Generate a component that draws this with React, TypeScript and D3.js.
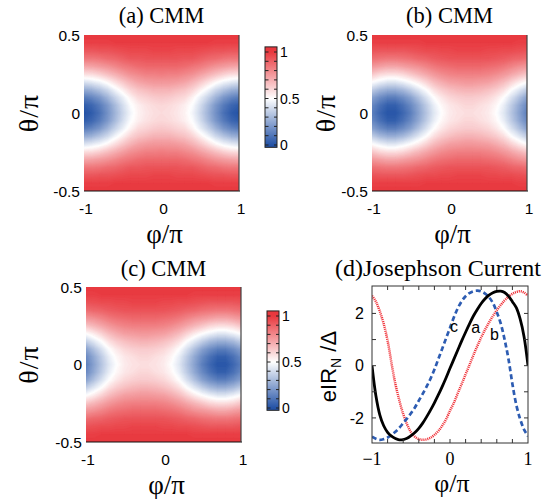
import { useMemo } from 'react'
import * as d3 from 'd3'

// CMM maps: columns are phi/pi, rows are theta/pi from 0.5 down to 0 (lower half mirrors it)
const PHI_GRID = [-1, -0.9, -0.8, -0.7, -0.6, -0.5, -0.4, -0.3, -0.2, -0.1, 0, 0.1, 0.2, 0.3, 0.4, 0.5, 0.6, 0.7, 0.8, 0.9, 1]
const THETA_UPPER = [0.5, 0.45, 0.4, 0.35, 0.3, 0.25, 0.2, 0.15, 0.1, 0.05, 0]

const CMM_A = [
  [1, 1, 1, 1, 1, 1, 1, 1, 1, 1, 1, 1, 1, 1, 1, 1, 1, 1, 1, 1, 1],
  [0.98, 0.98, 0.98, 0.98, 0.99, 0.99, 0.99, 0.99, 0.99, 0.99, 0.99, 0.99, 0.99, 0.99, 0.99, 0.99, 0.99, 0.98, 0.98, 0.98, 0.98],
  [0.92, 0.92, 0.93, 0.93, 0.94, 0.95, 0.96, 0.96, 0.96, 0.97, 0.97, 0.97, 0.96, 0.96, 0.96, 0.95, 0.94, 0.93, 0.93, 0.92, 0.92],
  [0.84, 0.84, 0.85, 0.87, 0.88, 0.9, 0.92, 0.92, 0.93, 0.93, 0.93, 0.93, 0.93, 0.92, 0.92, 0.9, 0.88, 0.87, 0.85, 0.84, 0.84],
  [0.72, 0.73, 0.75, 0.77, 0.8, 0.83, 0.85, 0.87, 0.88, 0.88, 0.88, 0.88, 0.88, 0.87, 0.85, 0.83, 0.8, 0.77, 0.75, 0.73, 0.72],
  [0.58, 0.59, 0.62, 0.66, 0.7, 0.74, 0.78, 0.8, 0.82, 0.82, 0.83, 0.82, 0.82, 0.8, 0.78, 0.74, 0.7, 0.66, 0.62, 0.59, 0.58],
  [0.42, 0.44, 0.47, 0.52, 0.58, 0.64, 0.69, 0.73, 0.75, 0.76, 0.76, 0.76, 0.75, 0.73, 0.69, 0.64, 0.58, 0.52, 0.47, 0.44, 0.42],
  [0.26, 0.28, 0.33, 0.39, 0.47, 0.54, 0.61, 0.65, 0.67, 0.69, 0.69, 0.69, 0.67, 0.65, 0.61, 0.54, 0.47, 0.39, 0.33, 0.28, 0.26],
  [0.12, 0.15, 0.2, 0.28, 0.37, 0.45, 0.53, 0.59, 0.61, 0.63, 0.64, 0.63, 0.61, 0.59, 0.53, 0.45, 0.37, 0.28, 0.2, 0.15, 0.12],
  [0.03, 0.06, 0.12, 0.2, 0.3, 0.4, 0.49, 0.54, 0.57, 0.59, 0.6, 0.59, 0.57, 0.54, 0.49, 0.4, 0.3, 0.2, 0.12, 0.06, 0.03],
  [0, 0.03, 0.09, 0.18, 0.28, 0.38, 0.47, 0.53, 0.56, 0.58, 0.59, 0.58, 0.56, 0.53, 0.47, 0.38, 0.28, 0.18, 0.09, 0.03, 0],
]

const CMM_B = [
  [1, 1, 1, 1, 1, 1, 1, 1, 1, 1, 1, 1, 1, 1, 1, 1, 1, 1, 1, 1, 1],
  [0.98, 0.98, 0.98, 0.98, 0.98, 0.98, 0.98, 0.99, 0.99, 0.99, 0.99, 0.99, 0.99, 0.99, 0.99, 0.99, 0.99, 0.99, 0.99, 0.98, 0.98],
  [0.93, 0.92, 0.92, 0.92, 0.92, 0.93, 0.94, 0.95, 0.95, 0.96, 0.96, 0.97, 0.97, 0.97, 0.97, 0.96, 0.96, 0.95, 0.95, 0.94, 0.93],
  [0.86, 0.85, 0.84, 0.84, 0.85, 0.86, 0.88, 0.89, 0.91, 0.92, 0.93, 0.93, 0.93, 0.93, 0.93, 0.93, 0.92, 0.91, 0.89, 0.88, 0.86],
  [0.76, 0.74, 0.72, 0.72, 0.74, 0.76, 0.78, 0.81, 0.84, 0.86, 0.87, 0.88, 0.88, 0.88, 0.88, 0.87, 0.86, 0.84, 0.81, 0.78, 0.76],
  [0.64, 0.6, 0.58, 0.58, 0.6, 0.64, 0.68, 0.72, 0.76, 0.79, 0.81, 0.82, 0.82, 0.82, 0.82, 0.81, 0.79, 0.76, 0.72, 0.68, 0.64],
  [0.5, 0.46, 0.43, 0.43, 0.46, 0.5, 0.55, 0.61, 0.67, 0.71, 0.74, 0.75, 0.76, 0.76, 0.75, 0.74, 0.71, 0.67, 0.61, 0.55, 0.5],
  [0.36, 0.3, 0.27, 0.27, 0.3, 0.36, 0.43, 0.5, 0.58, 0.63, 0.66, 0.68, 0.69, 0.69, 0.68, 0.66, 0.63, 0.58, 0.5, 0.43, 0.36],
  [0.23, 0.17, 0.13, 0.13, 0.17, 0.23, 0.32, 0.41, 0.5, 0.56, 0.6, 0.62, 0.63, 0.63, 0.62, 0.6, 0.56, 0.5, 0.41, 0.32, 0.23],
  [0.16, 0.09, 0.04, 0.04, 0.09, 0.16, 0.25, 0.35, 0.45, 0.52, 0.56, 0.58, 0.6, 0.6, 0.58, 0.56, 0.52, 0.45, 0.35, 0.25, 0.16],
  [0.13, 0.06, 0.01, 0.01, 0.06, 0.13, 0.23, 0.33, 0.43, 0.5, 0.55, 0.57, 0.58, 0.58, 0.57, 0.55, 0.5, 0.43, 0.33, 0.23, 0.13],
]

const CMM_C = [
  [1, 1, 1, 1, 1, 1, 1, 1, 1, 1, 1, 1, 1, 1, 1, 1, 1, 1, 1, 1, 1],
  [0.98, 0.98, 0.99, 0.99, 0.99, 0.99, 0.99, 0.99, 0.99, 0.99, 0.99, 0.99, 0.99, 0.99, 0.98, 0.98, 0.98, 0.98, 0.98, 0.98, 0.98],
  [0.93, 0.94, 0.95, 0.95, 0.96, 0.96, 0.97, 0.97, 0.97, 0.97, 0.96, 0.96, 0.95, 0.95, 0.94, 0.93, 0.92, 0.92, 0.92, 0.92, 0.93],
  [0.86, 0.88, 0.89, 0.91, 0.92, 0.93, 0.93, 0.93, 0.93, 0.93, 0.93, 0.92, 0.91, 0.89, 0.88, 0.86, 0.85, 0.84, 0.84, 0.85, 0.86],
  [0.76, 0.78, 0.81, 0.84, 0.86, 0.87, 0.88, 0.88, 0.88, 0.88, 0.87, 0.86, 0.84, 0.81, 0.78, 0.76, 0.74, 0.72, 0.72, 0.74, 0.76],
  [0.64, 0.68, 0.72, 0.76, 0.79, 0.81, 0.82, 0.82, 0.82, 0.82, 0.81, 0.79, 0.76, 0.72, 0.68, 0.64, 0.6, 0.58, 0.58, 0.6, 0.64],
  [0.5, 0.55, 0.61, 0.67, 0.71, 0.74, 0.75, 0.76, 0.76, 0.75, 0.74, 0.71, 0.67, 0.61, 0.55, 0.5, 0.46, 0.43, 0.43, 0.46, 0.5],
  [0.36, 0.43, 0.5, 0.58, 0.63, 0.66, 0.68, 0.69, 0.69, 0.68, 0.66, 0.63, 0.58, 0.5, 0.43, 0.36, 0.3, 0.27, 0.27, 0.3, 0.36],
  [0.23, 0.32, 0.41, 0.5, 0.56, 0.6, 0.62, 0.63, 0.63, 0.62, 0.6, 0.56, 0.5, 0.41, 0.32, 0.23, 0.17, 0.13, 0.13, 0.17, 0.23],
  [0.16, 0.25, 0.35, 0.45, 0.52, 0.56, 0.58, 0.6, 0.6, 0.58, 0.56, 0.52, 0.45, 0.35, 0.25, 0.16, 0.09, 0.04, 0.04, 0.09, 0.16],
  [0.13, 0.23, 0.33, 0.43, 0.5, 0.55, 0.57, 0.58, 0.58, 0.57, 0.55, 0.5, 0.43, 0.33, 0.23, 0.13, 0.06, 0.01, 0.01, 0.06, 0.13],
]

// Josephson current, eIR_N/Delta vs phi/pi
const PHI_J = [-1, -0.95, -0.9, -0.85, -0.8, -0.75, -0.7, -0.65, -0.6, -0.55, -0.5, -0.45, -0.4, -0.35, -0.3, -0.25, -0.2, -0.15, -0.1, -0.05, 0,
  0.05, 0.1, 0.15, 0.2, 0.25, 0.3, 0.35, 0.4, 0.45, 0.5, 0.55, 0.6, 0.65, 0.7, 0.75, 0.8, 0.85, 0.9, 0.95, 1]
const CURRENT_A = [0, -1.15, -1.88, -2.3, -2.55, -2.7, -2.79, -2.84, -2.83, -2.78, -2.68, -2.56, -2.4, -2.2, -1.96, -1.7, -1.42, -1.12, -0.8, -0.46, -0.1,
  0.25, 0.6, 0.95, 1.28, 1.6, 1.9, 2.15, 2.38, 2.56, 2.7, 2.79, 2.84, 2.85, 2.8, 2.66, 2.45, 2.22, 1.78, 1.1, 0]
const CURRENT_B = [2.68, 2.45, 2.08, 1.6, 0.95, 0.1, -0.7, -1.32, -1.85, -2.25, -2.55, -2.72, -2.81, -2.84, -2.82, -2.76, -2.65, -2.5, -2.3, -2.05, -1.72,
  -1.42, -1.05, -0.7, -0.33, 0.03, 0.4, 0.75, 1.08, 1.38, 1.65, 1.9, 2.12, 2.32, 2.5, 2.64, 2.75, 2.82, 2.85, 2.8, 2.68]
const CURRENT_C = [-2.72, -2.8, -2.84, -2.81, -2.75, -2.65, -2.53, -2.38, -2.2, -2.02, -1.82, -1.6, -1.34, -1.08, -0.8, -0.5, -0.15, 0.25, 0.65, 1.05, 1.45,
  1.85, 2.2, 2.47, 2.66, 2.78, 2.85, 2.87, 2.84, 2.76, 2.62, 2.4, 2.05, 1.62, 1.0, 0.25, -0.7, -1.5, -2.05, -2.45, -2.7]

const HEAT_TICKS_Y = [0.5, 0, -0.5]
const PHI_TICKS = [-1, 0, 1]
const BAR_LABELS = [1, 0.5, 0]
const BAR_MINOR = [0, 0.1, 0.2, 0.3, 0.4, 0.5, 0.6, 0.7, 0.8, 0.9, 1]
const J_LABELS_Y = [2, 0, -2]
const J_MINOR_Y = [-2, -1, 0, 1, 2]
const J_MINOR_X = [-0.8, -0.6, -0.4, -0.2, 0, 0.2, 0.4, 0.6, 0.8]

const BLUE = '#2352a6'
const RED = '#e8383e'
const SERIF = '"Liberation Serif", "Times New Roman", serif'
const SANS = '"Liberation Sans", Arial, sans-serif'

const heatColor = d3.scaleLinear<string>()
  .domain([0, 0.5, 1])
  .range([BLUE, '#ffffff', RED])
  .interpolate(d3.interpolateRgb)

const THRESHOLDS = d3.range(0, 1.0001, 0.01)

function HeatMap({ id, rows, x0, x1, y0, y1, title, titleY, ylabX }) {
  const xs = d3.scaleLinear().domain([-1, 1]).range([x0, x1])
  const ys = d3.scaleLinear().domain([-0.5, 0.5]).range([y1, y0])

  const paths = useMemo(() => {
    const full = [...rows, ...rows.slice(0, -1).reverse()]
    const nx = PHI_GRID.length
    const ny = full.length
    const dPhi = PHI_GRID[1] - PHI_GRID[0]
    const dTheta = THETA_UPPER[0] - THETA_UPPER[1]
    const bands = d3.contours().size([nx, ny]).thresholds(THRESHOLDS)(full.flat())
    const proj = d3.geoTransform({
      point(x, y) {
        this.stream.point(xs(PHI_GRID[0] + (x - 0.5) * dPhi), ys(THETA_UPPER[0] - (y - 0.5) * dTheta))
      }
    })
    const gp = d3.geoPath(proj)
    return bands.map(b => ({ d: gp(b), fill: heatColor(Math.min(1, b.value + 0.005)) }))
  }, [rows, x0, x1, y0, y1])

  return (
    <g>
      <defs>
        <clipPath id={`clip-${id}`}>
          <rect x={x0} y={y0} width={x1 - x0} height={y1 - y0} />
        </clipPath>
      </defs>
      <g clipPath={`url(#clip-${id})`}>
        {paths.map((p, i) => <path key={i} d={p.d} fill={p.fill} stroke={p.fill} strokeWidth={0.3} />)}
      </g>
      <line x1={x0} x2={x1 + 1} y1={y1} y2={y1} stroke="#111" strokeWidth={1.2} />
      <line x1={x1} x2={x1} y1={y0} y2={y1} stroke="#444" strokeWidth={1.2} />

      <text x={(x0 + x1) / 2} y={titleY} textAnchor="middle" fontFamily={SERIF} fontSize={22.5}>{title}</text>

      {HEAT_TICKS_Y.map(t => (
        <text key={t} x={x0 - 4} y={ys(t)} dy="0.36em" textAnchor="end" fontFamily={SANS} fontSize={15.5}>{t}</text>
      ))}
      {PHI_TICKS.map(t => (
        <text key={t} x={xs(t) + 2} y={y1 + 17} dy="0.36em" textAnchor="middle" fontFamily={SANS} fontSize={15.5}>{t}</text>
      ))}
      <text x={(x0 + x1) / 2 + 3} y={y1 + 52} textAnchor="middle" fontFamily={SERIF} fontSize={27}>φ/π</text>
      <text transform={`translate(${ylabX}, ${(y0 + y1) / 2}) rotate(-90)`} textAnchor="middle" dy="0.35em"
        fontFamily={SERIF} fontSize={28} letterSpacing={1}>θ/π</text>
    </g>
  )
}

function ColorBar({ id, x, top, bottom }) {
  // value 0 sits at bottom, 1 at top
  const bs = d3.scaleLinear().domain([0, 1]).range([bottom, top])
  const w = 12
  const yTop = bs(1.055)
  const yBot = bs(-0.025)
  return (
    <g>
      <defs>
        <linearGradient id={`bar-${id}`} gradientUnits="userSpaceOnUse" x1={0} x2={0} y1={bs(0)} y2={bs(1)}>
          {BAR_MINOR.map(v => <stop key={v} offset={v} stopColor={heatColor(v)} />)}
        </linearGradient>
      </defs>
      <rect x={x} y={yTop} width={w} height={yBot - yTop} fill={`url(#bar-${id})`} stroke="#222" strokeWidth={1} />
      {BAR_MINOR.map(v => (
        <g key={v}>
          <line x1={x} x2={x + 3.5} y1={bs(v)} y2={bs(v)} stroke="#222" strokeWidth={1} />
          <line x1={x + w - 3} x2={x + w} y1={bs(v)} y2={bs(v)} stroke="#222" strokeWidth={1} />
        </g>
      ))}
      {BAR_LABELS.map(v => (
        <text key={v} x={x + w + 3} y={bs(v)} dy="0.36em" fontFamily={SANS} fontSize={14}>{v}</text>
      ))}
    </g>
  )
}

function CurrentPanel({ x0, x1, y0, y1 }) {
  const xs = d3.scaleLinear().domain([-1, 1]).range([x0, x1])
  const ys = d3.scaleLinear().domain([-2.96, 3.05]).range([y1, y0])
  const line = d3.line<number>()
    .x((_, i) => xs(PHI_J[i]))
    .y(d => ys(d))
    .curve(d3.curveCatmullRom.alpha(0.5))

  return (
    <g>
      <defs>
        <clipPath id="clip-d">
          <rect x={x0} y={y0 - 2} width={x1 - x0} height={y1 - y0 + 4} />
        </clipPath>
      </defs>
      <text x={(x0 + x1) / 2 - 12} y={276} textAnchor="middle" fontFamily={SERIF} fontSize={24}>(d)Josephson Current</text>

      <g clipPath="url(#clip-d)">
        <path d={line(CURRENT_B)} fill="none" stroke="#f0333a" strokeWidth={2.5} strokeDasharray="1.1,0.9" />
        <path d={line(CURRENT_C)} fill="none" stroke="#2d5cb2" strokeWidth={2.7} strokeDasharray="5,3" />
        <path d={line(CURRENT_A)} fill="none" stroke="#000" strokeWidth={2.8} />
      </g>

      <rect x={x0} y={y0} width={x1 - x0} height={y1 - y0} fill="none" stroke="#333" strokeWidth={1} />
      {J_MINOR_X.map(t => (
        <g key={t}>
          <line x1={xs(t)} x2={xs(t)} y1={y0} y2={y0 + 4} stroke="#333" />
          <line x1={xs(t)} x2={xs(t)} y1={y1} y2={y1 - 4} stroke="#333" />
        </g>
      ))}
      {J_MINOR_Y.map(t => (
        <g key={t}>
          <line x1={x0} x2={x0 + 4} y1={ys(t)} y2={ys(t)} stroke="#333" />
          <line x1={x1} x2={x1 - 4} y1={ys(t)} y2={ys(t)} stroke="#333" />
        </g>
      ))}

      <text x={xs(0.05)} y={332} textAnchor="middle" fontFamily={SANS} fontSize={16}>c</text>
      <text x={xs(0.33)} y={333} textAnchor="middle" fontFamily={SANS} fontSize={16}>a</text>
      <text x={xs(0.57)} y={340} textAnchor="middle" fontFamily={SANS} fontSize={16}>b</text>

      {J_LABELS_Y.map(t => (
        <text key={t} x={x0 - 8} y={ys(t)} dy="0.36em" textAnchor="end" fontFamily={SANS} fontSize={16}>{t}</text>
      ))}
      {PHI_TICKS.map(t => (
        <text key={t} x={xs(t)} y={y1 + 16} dy="0.36em" textAnchor="middle" fontFamily={SERIF} fontSize={18}>
          {t < 0 ? `−${-t}` : t}
        </text>
      ))}
      <text x={(x0 + x1) / 2 + 2} y={y1 + 49} textAnchor="middle" fontFamily={SERIF} fontSize={26}>φ/π</text>
      <text transform={`translate(${x0 - 44}, ${(y0 + y1) / 2 + 2}) rotate(-90)`} textAnchor="middle" dy="0.35em"
        fontFamily={SANS} fontSize={22}>
        eIR<tspan fontSize={14} dy="5">N</tspan><tspan dy="-5"> /Δ</tspan>
      </text>
    </g>
  )
}

export default function App() {
  return (
    <svg width={559} height={499} style={{ position: 'absolute', left: 0, top: 0, background: '#fff' }}>
      <HeatMap id="a" rows={CMM_A} x0={84} x1={239} y0={35} y1={191} title="(a) CMM" titleY={23} ylabX={28} />
      <ColorBar id="a" x={265} top={52} bottom={145} />
      <HeatMap id="b" rows={CMM_B} x0={372} x1={527} y0={35} y1={191} title="(b) CMM" titleY={23} ylabX={325} />
      <HeatMap id="c" rows={CMM_C} x0={86} x1={241} y0={287} y1={442} title="(c) CMM" titleY={276} ylabX={28} />
      <ColorBar id="c" x={267} top={316} bottom={408} />
      <CurrentPanel x0={372} x1={528} y0={286} y1={443} />
    </svg>
  )
}
